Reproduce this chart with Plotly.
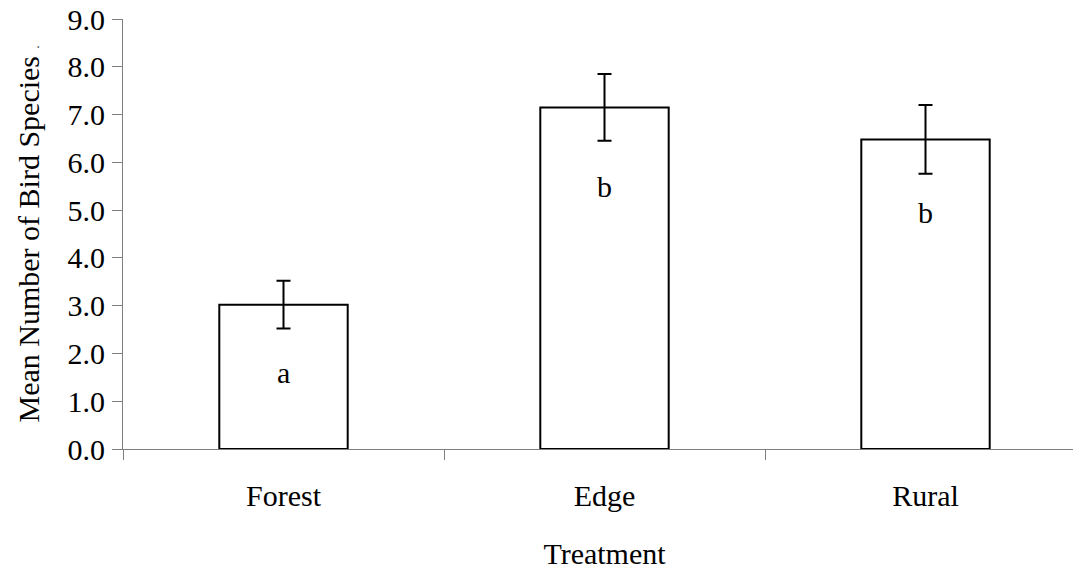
import plotly.graph_objects as go

categories = ["Forest", "Edge", "Rural"]
means = [3.02, 7.15, 6.48]
errors = [0.5, 0.7, 0.72]
letters = ["a", "b", "b"]
letter_y = [1.6, 5.5, 4.95]
y_ticks = [0, 1, 2, 3, 4, 5, 6, 7, 8, 9]
y_tick_labels = [f"{v:.1f}" for v in y_ticks]

FONT = "Liberation Serif"
FS = 30
AXIS_COLOR = "#7f7f7f"

fig = go.Figure()
fig.add_trace(go.Bar(
    x=categories, y=means, width=0.4,
    marker=dict(color="white", line=dict(color="black", width=2)),
    error_y=dict(type="data", array=errors, visible=True,
                 color="black", thickness=2, width=7),
    showlegend=False,
))

for c, t, yy in zip(categories, letters, letter_y):
    fig.add_annotation(x=c, y=yy, text=t, showarrow=False,
                       font=dict(family=FONT, size=FS, color="black"))

fig.update_layout(
    width=1081, height=571,
    margin=dict(l=115, r=3, t=11, b=130, autoexpand=False),
    paper_bgcolor="white", plot_bgcolor="white",
    font=dict(family=FONT, size=FS, color="black"),
    bargap=0.6,
)
fig.update_xaxes(
    range=[-0.5, 2.5],
    showline=True, linecolor=AXIS_COLOR, linewidth=1,
    ticks="outside", tickson="boundaries", ticklen=10, tickcolor=AXIS_COLOR,
    ticklabelstandoff=20, automargin=False,
    showgrid=False, zeroline=False,
    title=dict(text="Treatment", standoff=31, font=dict(family=FONT, size=FS)),
)
fig.update_yaxes(
    range=[0, 9],
    tickvals=y_ticks, ticktext=y_tick_labels,
    showline=True, linecolor=AXIS_COLOR, linewidth=1,
    ticks="outside", ticklen=10, tickcolor=AXIS_COLOR,
    ticklabelstandoff=1, automargin=False, ticklabeloverflow="allow",
    showgrid=False, zeroline=False,
    title=dict(text="Mean Number of Bird Species <span style='font-size:12px'>.</span>",
               standoff=19, font=dict(family=FONT, size=FS)),
)

fig.write_html("out.html")
